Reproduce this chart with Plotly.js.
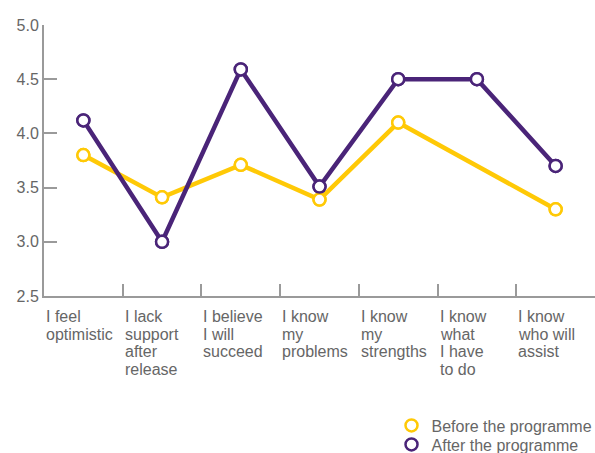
<!DOCTYPE html>
<html>
<head>
<meta charset="utf-8">
<script src="https://cdn.plot.ly/plotly-3.0.1.min.js"></script>
<style>html,body{margin:0;padding:0;background:#fff}#chart{width:595px;height:453px}</style>
</head>
<body>
<div id="chart"></div>
<script>
const categories = ["I feel\noptimistic", "I lack\nsupport\nafter\nrelease", "I believe\nI will\nsucceed", "I know\nmy\nproblems", "I know\nmy\nstrengths", "I know\nwhat\nI have\nto do", "I know\nwho will\nassist"];
const catKeys = ["c1","c2","c3","c4","c5","c6","c7"];
const before = [3.8, 3.41, 3.71, 3.39, 4.1, null, 3.3];
const after = [4.12, 3.0, 4.59, 3.51, 4.5, 4.5, 3.7];
const seriesNames = ["Before the programme", "After the programme"];
const colors = ["#FFC906", "#4A2478"];
const yTicks = [2.5, 3.0, 3.5, 4.0, 4.5, 5.0];

const fontFam = "Liberation Sans, Arial, sans-serif";
const grey = "#666666";
const axisGrey = "#9a9a9a";

function lineTrace(vals, i) {
  return {
    x: catKeys, y: vals, type: "scatter", mode: "lines+markers",
    connectgaps: true, showlegend: false, name: seriesNames[i],
    line: {color: colors[i], width: 4.5},
    marker: {symbol: "circle", size: 12, color: "#ffffff", line: {color: colors[i], width: 2.5}},
    cliponaxis: false
  };
}
function legendTrace(vals, i) {
  return {
    x: catKeys, y: vals, type: "scatter", mode: "markers", name: seriesNames[i],
    legend: i === 0 ? "legend" : "legend2",
    marker: {symbol: "circle", size: 12, color: "#ffffff", line: {color: colors[i], width: 2.5}},
    cliponaxis: false
  };
}

const data = [lineTrace(before, 0), lineTrace(after, 1), legendTrace(before, 0), legendTrace(after, 1)];

const annotations = [];
categories.forEach((c, i) => {
  c.split("\n").forEach((ln, k) => {
    annotations.push({
      x: i - 0.5, xref: "x", y: 0, yref: "paper", yshift: -10 - 17.5 * k,
      text: ln, showarrow: false, xanchor: "left", yanchor: "top", align: "left",
      font: {family: fontFam, size: 16, color: grey}
    });
  });
});

const legFont = {family: fontFam, size: 16, color: grey};
const layout = {
  width: 595, height: 453,
  margin: {l: 44, r: 0, t: 25, b: 157, autoexpand: false},
  paper_bgcolor: "#fff", plot_bgcolor: "#fff",
  font: {family: fontFam, size: 16, color: grey},
  showlegend: true,
  legend: {xref: "container", yref: "container", x: 0.658, xanchor: "left", y: 0.0982, yanchor: "top",
           font: legFont, bgcolor: "rgba(0,0,0,0)"},
  legend2: {xref: "container", yref: "container", x: 0.658, xanchor: "left", y: 0.0563, yanchor: "top",
           font: legFont, bgcolor: "rgba(0,0,0,0)"},
  xaxis: {
    type: "category", range: [-0.5, 6.5], tickson: "boundaries",
    ticks: "inside", ticklen: 12, tickwidth: 2, tickcolor: axisGrey,
    showline: true, linecolor: axisGrey, linewidth: 2,
    showgrid: false, zeroline: false, showticklabels: false, fixedrange: true
  },
  yaxis: {
    range: [2.5, 5.0], tickvals: yTicks, ticktext: yTicks.map(v => v.toFixed(1)),
    ticks: "inside", ticklen: 13, tickwidth: 2, tickcolor: axisGrey,
    showline: true, linecolor: axisGrey, linewidth: 2,
    showgrid: false, zeroline: false, tickfont: {family: fontFam, size: 16, color: grey},
    fixedrange: true
  },
  annotations: annotations
};

Plotly.newPlot("chart", data, layout, {displayModeBar: false, staticPlot: true});
</script>
</body>
</html>
